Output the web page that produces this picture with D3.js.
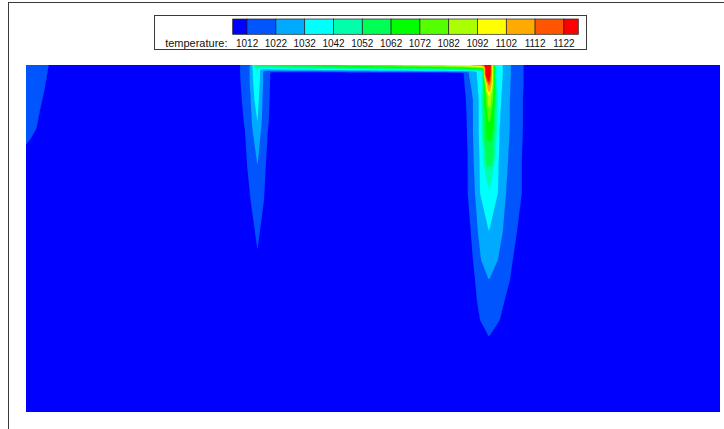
<!DOCTYPE html>
<html><head><meta charset="utf-8">
<script src="https://cdn.jsdelivr.net/npm/d3@7"></script>
<style>html,body{margin:0;padding:0;background:#fff;overflow:hidden}svg{display:block}</style>
</head><body>
<script>
// ---------------- data ----------------
const levels = [1012,1022,1032,1042,1052,1062,1072,1082,1092,1102,1112,1122];
const bandColors = ["#0000ff","#0055ff","#00aaff","#00ffff","#00ffaa","#00ff55","#00ff00","#55ff00","#aaff00","#ffff00","#ffaa00","#ff5500","#ff0000"];
const legendTitle = "temperature:";
const ambientT = 1002;
const domainX = [0, 20];      // m
const domainDepth = [0, 10];  // m, 0 = top
// isotherms whose half-widths are tabulated (rows of the width tables)
const isoLevels = [1012, 1022, 1032, 1042, 1052, 1062, 1072, 1082, 1102, 1122];

// right plume
const rightPlumeX = 13.34;
const rightDepth   = [0, 0.29, 0.58, 1.01, 1.87, 2.74, 3.69, 4.81, 5.62, 6.20, 6.77, 7.35, 7.84, 10];
const rightCenterT = [1145, 1135, 1115, 1087, 1067, 1055, 1040, 1032, 1026, 1022, 1018, 1015, 1012, 1004];
const rightWestWidth = [
  [0.72,0.72,0.70,0.66,0.63,0.61,0.61,0.52,0.46,0.40,0.35,0.26,0,0],
  [0.58,0.58,0.52,0.46,0.46,0.44,0.40,0.32,0.23,0,0,0,0,0],
  [0.35,0.35,0.32,0.29,0.29,0.27,0.26,0,0,0,0,0,0,0],
  [0.19,0.19,0.20,0.23,0.20,0.17,0,0,0,0,0,0,0,0],
  [0.17,0.17,0.17,0.17,0.17,0.09,0,0,0,0,0,0,0,0],
  [0.16,0.16,0.15,0.14,0.09,0,0,0,0,0,0,0,0,0],
  [0.15,0.15,0.12,0.09,0,0,0,0,0,0,0,0,0,0],
  [0.14,0.14,0.10,0.04,0,0,0,0,0,0,0,0,0,0],
  [0.13,0.13,0.06,0,0,0,0,0,0,0,0,0,0,0],
  [0.10,0.10,0,0,0,0,0,0,0,0,0,0,0,0]
];
const rightEastWidth = [
  [1.00,1.00,1.00,0.98,0.98,0.95,0.95,0.81,0.69,0.61,0.46,0.32,0,0],
  [0.63,0.63,0.62,0.60,0.60,0.55,0.49,0.40,0.26,0,0,0,0,0],
  [0.40,0.40,0.38,0.35,0.30,0.28,0.26,0,0,0,0,0,0,0],
  [0.20,0.20,0.22,0.26,0.23,0.17,0,0,0,0,0,0,0,0],
  [0.18,0.18,0.19,0.20,0.17,0.12,0,0,0,0,0,0,0,0],
  [0.17,0.17,0.17,0.17,0.12,0,0,0,0,0,0,0,0,0],
  [0.14,0.14,0.14,0.12,0,0,0,0,0,0,0,0,0,0],
  [0.12,0.12,0.12,0.06,0,0,0,0,0,0,0,0,0,0],
  [0.09,0.09,0.08,0,0,0,0,0,0,0,0,0,0,0],
  [0.05,0.05,0,0,0,0,0,0,0,0,0,0,0,0]
];

// left plume
const leftPlumeX = 6.67;
const leftDepth   = [0, 0.14, 0.43, 1.01, 1.67, 1.87, 2.88, 3.89, 5.33, 10];
const leftCenterT = [1055, 1045, 1040, 1036, 1032, 1030.5, 1022, 1018, 1012, 1004];
const leftWestWidth = [
  [0.50,0.50,0.49,0.45,0.39,0.36,0.30,0.20,0,0],
  [0.22,0.22,0.22,0.19,0.16,0.14,0,0,0,0],
  [0.14,0.14,0.13,0.09,0,0,0,0,0,0],
  [0.06,0.03,0,0,0,0,0,0,0,0]
];
const leftEastWidth = [
  [0.37,0.37,0.36,0.35,0.32,0.30,0.24,0.19,0,0],
  [0.16,0.16,0.16,0.14,0.12,0.10,0,0,0,0],
  [0.09,0.07,0.07,0.04,0,0,0,0,0,0],
  [0.03,0,0,0,0,0,0,0,0,0]
];

// warm zone on the west boundary
const edgeX = 0;
const edgeDepth   = [0, 0.66, 1.35, 1.82, 2.10, 2.31, 10];
const edgeCenterT = [1018, 1017, 1015, 1014, 1013, 1012, 1004];
const edgeWidth   = [[0.66,0.55,0.40,0.31,0.16,0,0]];

// hot surface strip joining the plumes
const stripX = [6.46, 6.57, 6.80, 7.90, 9.34, 10.78, 11.93, 12.65, 13.03, 13.26, 13.37, 13.49];
const stripT = [1002, 1050, 1062, 1070, 1078, 1088, 1096, 1104, 1114, 1128, 1138, 1002];
const stripThickness = 0.245;

// ---------------- layout ----------------
const W = 724, H = 429;
const plot = {left: 26, right: 720, top: 65, bottom: 412};
const xScale = d3.scaleLinear().domain(domainX).range([plot.left, plot.right]);
const yScale = d3.scaleLinear().domain(domainDepth).range([plot.top, plot.bottom]);

function interp(xs, ys, x) {
  if (x <= xs[0]) return ys[0];
  const n = xs.length;
  if (x >= xs[n-1]) return ys[n-1];
  const i = d3.bisectRight(xs, x) - 1;
  const t = (x - xs[i]) / (xs[i+1] - xs[i]);
  return ys[i] + t * (ys[i+1] - ys[i]);
}

const plumes = [
  {x0: rightPlumeX, depth: rightDepth, tc: rightCenterT, west: rightWestWidth, east: rightEastWidth},
  {x0: leftPlumeX, depth: leftDepth, tc: leftCenterT, west: leftWestWidth, east: leftEastWidth},
  {x0: edgeX, depth: edgeDepth, tc: edgeCenterT, west: edgeWidth, east: edgeWidth}
];

function plumeExcess(p, x, d) {
  const tc = interp(p.depth, p.tc, d);
  const a = Math.abs(x - p.x0);
  const widths = x < p.x0 ? p.west : p.east;
  const pts = [[0, tc]];
  for (let k = widths.length - 1; k >= 0; k--) {
    const L = isoLevels[k];
    if (tc <= L) continue;
    const o = interp(p.depth, widths[k], d);
    if (o <= pts[pts.length-1][0]) continue;
    pts.push([o, L]);
  }
  const last = pts[pts.length-1];
  pts.push([last[0] + 0.3, Math.min(ambientT, last[1])]);
  let T = ambientT;
  for (let k = 0; k < pts.length - 1; k++) {
    if (a >= pts[k][0] && a <= pts[k+1][0]) {
      const t = (a - pts[k][0]) / (pts[k+1][0] - pts[k][0]);
      T = pts[k][1] + t * (pts[k+1][1] - pts[k][1]);
      break;
    }
  }
  return Math.max(0, T - ambientT);
}

function stripExcess(x, d) {
  if (x < stripX[0] || x > stripX[stripX.length-1]) return 0;
  const e = interp(stripX, stripT, x) - ambientT;
  return Math.max(0, e * (1 - d / stripThickness));
}

const nx = plot.right - plot.left, ny = plot.bottom - plot.top;
const values = new Float64Array(nx * ny);
const P = 6;
for (let j = 0; j < ny; j++) {
  const d = domainDepth[0] + (j + 0.5) / ny * (domainDepth[1] - domainDepth[0]);
  for (let i = 0; i < nx; i++) {
    const x = domainX[0] + (i + 0.5) / nx * (domainX[1] - domainX[0]);
    let s = 0;
    for (const p of plumes) { const e = plumeExcess(p, x, d); s += Math.pow(e, P); }
    const es = stripExcess(x, d); s += Math.pow(es, P);
    values[j * nx + i] = ambientT + Math.pow(s, 1 / P);
  }
}

// ---------------- drawing ----------------
const svg = d3.select("body").append("svg").attr("width", W).attr("height", H);
svg.append("rect").attr("width", W).attr("height", H).attr("fill", "#fff");

// frame
svg.append("rect").attr("x", 8.5).attr("y", 2.5).attr("width", 1000).attr("height", 1000)
  .attr("fill", "none").attr("stroke", "#3a3a3a").attr("stroke-width", 1);

svg.append("clipPath").attr("id", "clip").append("rect")
  .attr("x", plot.left).attr("y", plot.top).attr("width", nx).attr("height", ny);

const g = svg.append("g").attr("clip-path", "url(#clip)");
g.append("rect").attr("x", plot.left).attr("y", plot.top).attr("width", nx).attr("height", ny)
  .attr("fill", bandColors[0]);

const proj = d3.geoTransform({
  point(px, py) {
    this.stream.point(
      xScale(domainX[0] + px / nx * (domainX[1] - domainX[0])),
      yScale(domainDepth[0] + py / ny * (domainDepth[1] - domainDepth[0])));
  }
});
const path = d3.geoPath(proj);
const contours = d3.contours().size([nx, ny]).thresholds(levels)(values);
g.selectAll("path.band").data(contours).join("path")
  .attr("class", "band")
  .attr("d", path)
  .attr("fill", (c) => bandColors[levels.indexOf(c.value) + 1]);

// legend
const step = levels[1] - levels[0];
const legX = d3.scaleLinear().domain([levels[0] - step / 2, levels[levels.length-1] + step / 2]).range([232.7, 578.3]);
const leg = svg.append("g");
leg.append("rect").attr("x", 154.5).attr("y", 15.5).attr("width", 432).attr("height", 34)
  .attr("fill", "#fff").attr("stroke", "#3a3a3a").attr("stroke-width", 1);
const bandEdges = [legX.domain()[0], ...levels, legX.domain()[1]];
leg.selectAll("rect.cell").data(bandColors).join("rect")
  .attr("class", "cell")
  .attr("x", (c, i) => legX(bandEdges[i]))
  .attr("width", (c, i) => legX(bandEdges[i+1]) - legX(bandEdges[i]))
  .attr("y", 19).attr("height", 15.3)
  .attr("fill", c => c).attr("stroke", "#222").attr("stroke-width", 0.7);
leg.selectAll("text.lab").data(levels).join("text")
  .attr("class", "lab")
  .attr("x", v => legX(v)).attr("y", 47)
  .attr("text-anchor", "middle")
  .attr("font-family", "'Liberation Sans', Arial, sans-serif").attr("font-size", 10)
  .attr("fill", "#111").text(v => v);
leg.append("text").attr("x", 227.5).attr("y", 47).attr("text-anchor", "end")
  .attr("font-family", "'Liberation Sans', Arial, sans-serif").attr("font-size", 11)
  .attr("fill", "#111").text(legendTitle);
</script>
</body></html>
